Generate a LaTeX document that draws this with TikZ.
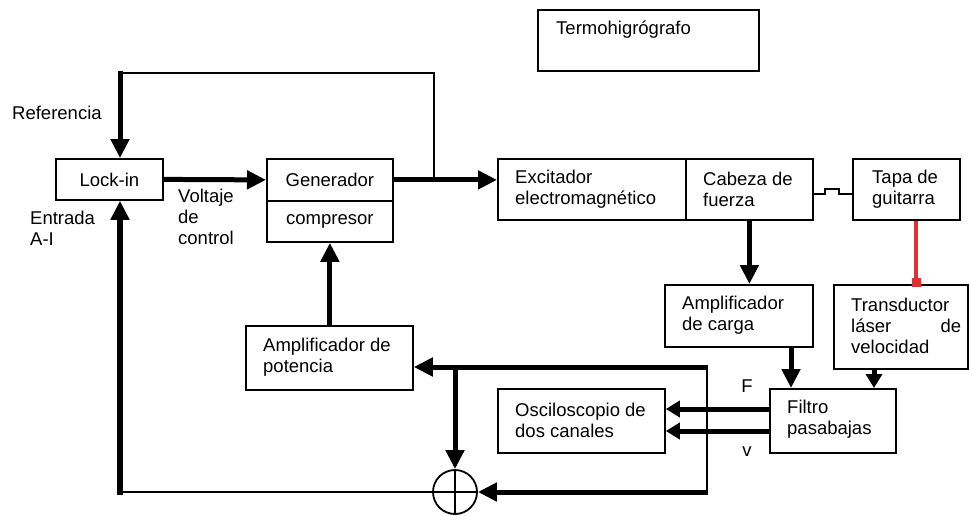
\documentclass[tikz,border=0pt]{standalone}
\usepackage{fontspec}
\setmainfont{Liberation Sans}
\usetikzlibrary{arrows.meta,calc}
\definecolor{redc}{RGB}{222,50,50}
\begin{document}
\begin{tikzpicture}[x=1pt,y=-1pt,
  box/.style={draw, line width=1.8pt, inner sep=0pt, anchor=north west, font=\fontsize{18.5}{21}\selectfont},
  lbl/.style={anchor=west, inner sep=0pt, font=\fontsize{18.5}{21}\selectfont, align=left},
  thinl/.style={line width=2pt},
  thkl/.style={line width=5pt},
  tip/.style={-{Triangle[length=19pt 0 0,width=18pt 0 0]}},
  stip/.style={-{Triangle[length=14pt 0 0,width=16pt 0 0]}},
]
\useasboundingbox (0,0) rectangle (969,515);
% boxes
\node[box, minimum width=107, minimum height=41] (lock) at (55,158) {Lock-in};
\node[box, minimum width=126, minimum height=42] (gentop) at (266,158) {Generador};
\node[box, minimum width=126, minimum height=41] (genbot) at (266,200) {compresor};
\node[box, minimum width=188, minimum height=61] (exc) at (497,158) {};
\node[box, minimum width=127, minimum height=61] (cab) at (685,158) {};
\node[box, minimum width=107, minimum height=61] (tapa) at (852,158) {};
\node[box, minimum width=148, minimum height=62] (ampc) at (664,284) {};
\node[box, minimum width=134, minimum height=84] (trans) at (833,284) {};
\node[box, minimum width=126, minimum height=64] (filt) at (769,388) {};
\node[box, minimum width=167, minimum height=64] (osc) at (497,388) {};
\node[box, minimum width=167, minimum height=64] (ampp) at (245,325) {};
\node[box, minimum width=221, minimum height=61] (termo) at (537,9) {};
\node[draw, circle, minimum size=44, line width=1.8pt, inner sep=0pt] (sum) at (455,492) {};
% labels
\node[lbl] (tRef) at (12,113) {Referencia};
\node[lbl] (tEnt) at (30,228) {Entrada\\A-I};
\node[lbl] (tVol) at (178,217) {Voltaje\\de\\control};
\node[lbl] (tExc) at (515,189.5) {Excitador\\electromagnético};
\node[lbl] (tCab) at (703,189.5) {Cabeza de\\fuerza};
\node[lbl] (tTapa) at (872,189.5) {Tapa de\\guitarra};
\node[lbl] (tAmpc) at (682,315) {Amplificador\\de carga};
\node[lbl, text width=110] (tTrans) at (851,326) {Transductor\\láser\hfill de\\velocidad};
\node[lbl] (tFilt) at (787,419.5) {Filtro\\pasabajas};
\node[lbl] (tOsc) at (515,420.5) {Osciloscopio de\\dos canales};
\node[lbl] (tAmpp) at (263,357) {Amplificador de\\potencia};
\node[lbl] (tTermo) at (556,30) {Termohigrógrafo};
\node[lbl, anchor=center] (tF) at (747,386) {F};
\node[lbl, anchor=center] (tv) at (747,452) {v};
% coordinates
\coordinate (j1) at (434,178.5);
\coordinate (topR) at (434,73);
\coordinate (topL) at (120,73);
\coordinate (topLx) at (120,71);
\coordinate (cF) at (791,0);
\coordinate (cV) at (874,0);
\coordinate (cR) at (916,0);
\coordinate (yF) at (0,409);
\coordinate (yV) at (0,431);
\coordinate (ySq) at (0,194);
\coordinate (fbTop) at (707,367);
\coordinate (fbBot) at (707,492);
\coordinate (j2) at (455,367);
\coordinate (bl) at (120,492);
\coordinate (blx) at (120,495);
% connectors
\draw[thinl] (j1) -- (topR) -- (topL);
\draw[thkl,tip] (topLx) -- (topL |- lock.north);
\draw[thkl,tip] (lock.east) -- (gentop.west);
\draw[thkl,tip] (gentop.east) -- (exc.west |- gentop.east);
\draw[thinl] (cab.east |- ySq) -- ++(11,0) -- ++(0,-5) -- ++(14,0) -- ++(0,5) -- (tapa.west |- ySq);
\draw[thkl,tip] (cab.south) -- (cab.south |- ampc.north);
\draw[line width=3.5pt, redc] (tapa.south -| cR) -- (trans.north -| cR);
\node[fill=redc, minimum size=9, inner sep=0pt] (rsq) at ($(trans.north -| cR)+(0,-2)$) {};
\draw[thkl,tip] (ampc.south -| cF) -- (filt.north -| cF);
\draw[thkl,stip] (trans.south -| cV) -- (filt.north -| cV);
\draw[thkl,stip] (filt.west |- yF) -- (osc.east |- yF);
\draw[thkl,stip] (filt.west |- yV) -- (osc.east |- yV);
\draw[thinl] (fbTop) -- (fbBot);
\draw[thkl,tip] ($(fbTop)+(1,0)$) -- (ampp.east |- fbTop);
\draw[thkl,tip] (j2) -- (sum.north);
\draw[thkl,tip] ($(fbBot)+(1,0)$) -- (sum.east);
\draw[thinl] (sum.north) -- (sum.south);
\draw[thinl] (sum.west) -- (sum.east);
\draw[thinl] (sum.west) -- (bl);
\draw[line width=6pt,tip] (blx) -- (lock.south -| bl);
\draw[thkl,tip] (ampp.north -| genbot.south) -- (genbot.south);
\end{tikzpicture}
\end{document}
